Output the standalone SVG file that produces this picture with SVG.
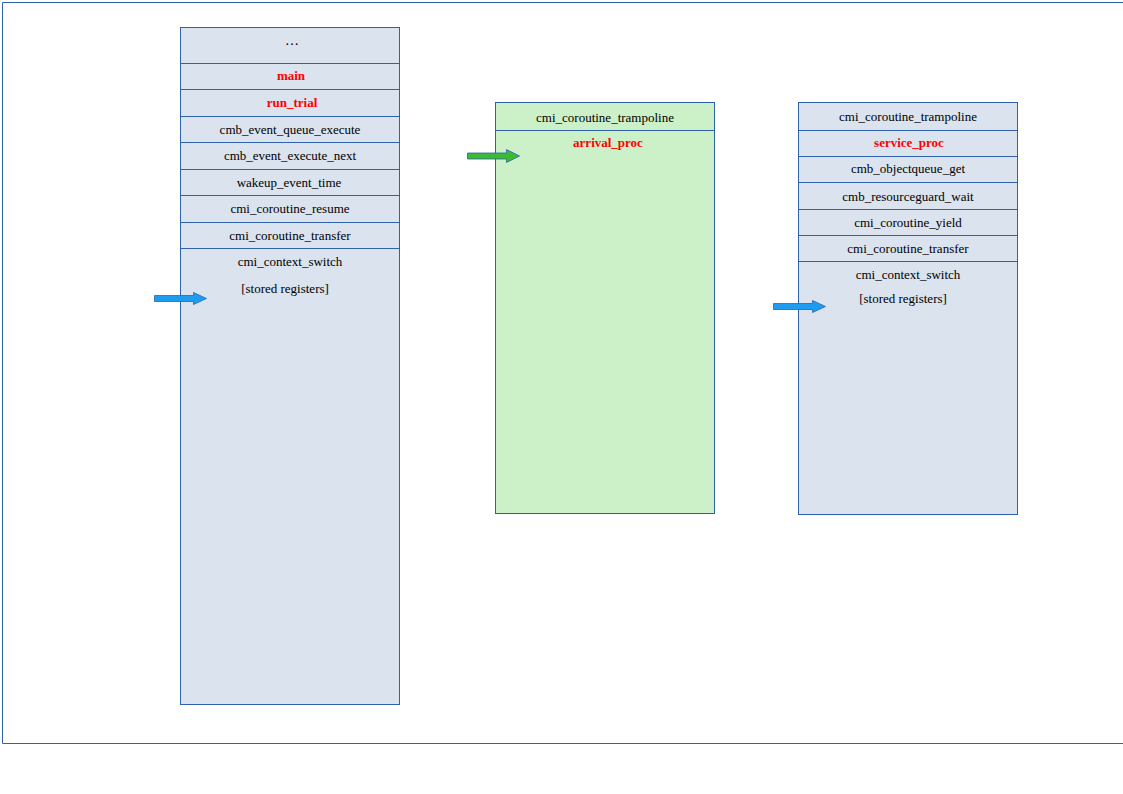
<svg xmlns="http://www.w3.org/2000/svg" width="1123" height="794" viewBox="0 0 1123 794">
<style>
.frame{fill:none;stroke:#2f62a8;stroke-width:1}
.box{fill:#dae3ee;stroke:#2f62a8;stroke-width:1}
.gbox{fill:#ccf0c8;stroke:#2f62a8;stroke-width:1}
.div{stroke:#2f62a8;stroke-width:1}
.t{font-family:"Liberation Serif",serif;font-size:13px;fill:#000;text-anchor:middle}
.r{font-family:"Liberation Serif",serif;font-size:13px;font-weight:bold;fill:#ff0000;text-anchor:middle}
.ab{fill:#1e9df0;stroke:#2f62a8;stroke-width:0.8}
.ag{fill:#3cba34;stroke:#2f62a8;stroke-width:0.8}
</style>
<rect width="1123" height="794" fill="#ffffff"/>
<path class="frame" d="M1130 2.5 H2.5 V743.5 H1130"/>
<g id="stack-main">
<rect class="box" x="180.5" y="27.5" width="219" height="677"/>
<line class="div" x1="180.5" y1="63.5" x2="399.5" y2="63.5"/>
<line class="div" x1="180.5" y1="89.5" x2="399.5" y2="89.5"/>
<line class="div" x1="180.5" y1="116.5" x2="399.5" y2="116.5"/>
<line class="div" x1="180.5" y1="142.5" x2="399.5" y2="142.5"/>
<line class="div" x1="180.5" y1="169.5" x2="399.5" y2="169.5"/>
<line class="div" x1="180.5" y1="195.5" x2="399.5" y2="195.5"/>
<line class="div" x1="180.5" y1="222.5" x2="399.5" y2="222.5"/>
<line class="div" x1="180.5" y1="248.5" x2="399.5" y2="248.5"/>
<text class="t" x="292" y="45" style="font-size:14px">…</text>
<text class="r" x="291" y="80">main</text>
<text class="r" x="292" y="107">run_trial</text>
<text class="t" x="290" y="134">cmb_event_queue_execute</text>
<text class="t" x="290" y="160">cmb_event_execute_next</text>
<text class="t" x="289" y="187">wakeup_event_time</text>
<text class="t" x="290" y="213">cmi_coroutine_resume</text>
<text class="t" x="290" y="240">cmi_coroutine_transfer</text>
<text class="t" x="290" y="266">cmi_context_switch</text>
<text class="t" x="285" y="293">[stored registers]</text>
</g>
<g id="stack-arrival">
<rect class="gbox" x="495.5" y="102.5" width="219" height="411"/>
<line class="div" x1="495.5" y1="130.5" x2="714.5" y2="130.5"/>
<text class="t" x="605" y="122">cmi_coroutine_trampoline</text>
<text class="r" x="608" y="147">arrival_proc</text>
</g>
<g id="stack-service">
<rect class="box" x="798.5" y="102.5" width="219" height="412"/>
<line class="div" x1="798.5" y1="130.5" x2="1017.5" y2="130.5"/>
<line class="div" x1="798.5" y1="156.5" x2="1017.5" y2="156.5"/>
<line class="div" x1="798.5" y1="182.5" x2="1017.5" y2="182.5"/>
<line class="div" x1="798.5" y1="209.5" x2="1017.5" y2="209.5"/>
<line class="div" x1="798.5" y1="235.5" x2="1017.5" y2="235.5"/>
<line class="div" x1="798.5" y1="261.5" x2="1017.5" y2="261.5"/>
<text class="t" x="908" y="121">cmi_coroutine_trampoline</text>
<text class="r" x="909" y="147">service_proc</text>
<text class="t" x="908" y="173">cmb_objectqueue_get</text>
<text class="t" x="908" y="201">cmb_resourceguard_wait</text>
<text class="t" x="908" y="227">cmi_coroutine_yield</text>
<text class="t" x="908" y="253">cmi_coroutine_transfer</text>
<text class="t" x="908" y="279">cmi_context_switch</text>
<text class="t" x="903" y="303">[stored registers]</text>
</g>
<g id="connectors">
<path class="ab" d="M154.5 295.5 H193.5 V292.5 L206.5 298.5 L193.5 304.5 V301.5 H154.5 Z"/>
<path class="ag" d="M467.5 153 H506.5 V149.5 L519.5 156 L506.5 162.5 V159 H467.5 Z"/>
<path class="ab" d="M773.5 303.5 H812.5 V300.5 L825.5 306.5 L812.5 312.5 V309.5 H773.5 Z"/>
</g>
</svg>
